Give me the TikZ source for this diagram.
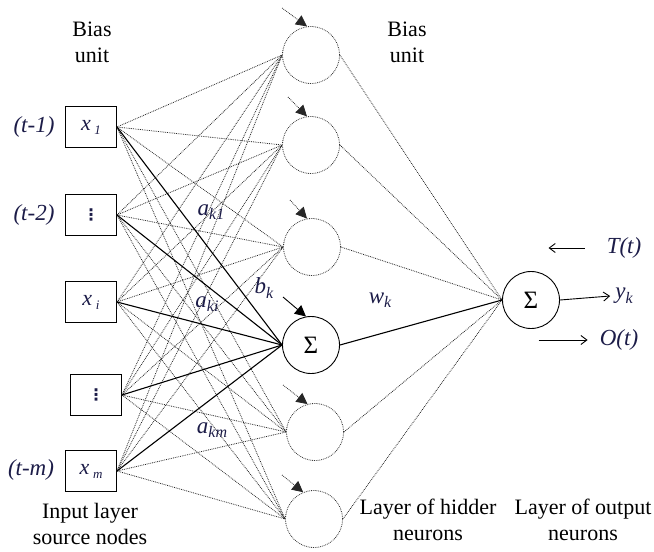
\documentclass[tikz,border=0pt]{standalone}
\usepackage{fontspec}
\setmainfont{Liberation Serif}
\newfontfamily\symfont{DejaVu Sans}
\usetikzlibrary{arrows.meta,calc}
\definecolor{ink}{RGB}{28,28,72}

% subscripted variable in the label font
\newcommand{\vsub}[2]{#1\raisebox{-0.4ex}{\fontsize{16}{16}\selectfont #2}}
\newcommand{\boxsub}[2]{#1\,\raisebox{-0.4ex}{\fontsize{13}{13}\selectfont #2}}
\newcommand{\vdotsym}{{\symfont\bfseries\fontsize{16}{16}\selectfont ⋮}}

\tikzset{
  inbox/.style={draw, line width=0.9pt, minimum width=51pt, minimum height=41pt,
                inner sep=0pt, text=ink, font=\fontsize{22}{24}\selectfont\itshape},
  hid/.style={circle, draw=black!80, densely dotted, line width=0.8pt,
              minimum size=57pt, inner sep=0pt},
  sumnode/.style={circle, draw, line width=0.9pt, minimum size=57pt, inner sep=0pt,
                  font=\fontsize{25}{27}\selectfont},
  dotlink/.style={draw=black!85, densely dotted, line width=0.8pt},
  solidlink/.style={draw, line width=1.1pt},
  biasarrow/.style={draw=black!85, densely dotted, line width=0.8pt,
                    -{Triangle[length=11pt,width=11pt]}},
  biassolid/.style={draw, line width=0.9pt, -{Triangle[length=11pt,width=11pt]}},
  lbl/.style={font=\fontsize{22}{26}\selectfont, align=center, inner sep=0pt},
  mathlbl/.style={text=ink, font=\fontsize{23}{25}\selectfont\itshape, inner sep=0pt},
  outarrow/.style={line width=0.9pt, -{Straight Barb[length=6pt,width=9pt]}}
}

\begin{document}
\begin{tikzpicture}[x=1pt,y=-1pt]
\useasboundingbox (0,0) rectangle (654,552);

% input layer
\node[inbox] (in1) at (91,127) {\boxsub{x}{1}};
\node[inbox] (in2) at (91,215) {\vdotsym};
\node[inbox] (in3) at (91,302) {\boxsub{x}{i}};
\node[inbox] (in4) at (96,395) {\vdotsym};
\node[inbox] (in5) at (91,471) {\boxsub{x}{m}};

% hidden layer
\node[hid] (h1) at (311,55) {};
\node[hid] (h2) at (311,145) {};
\node[hid] (h3) at (312,247) {};
\node[sumnode] (h4) at (311,345) {Σ};
\node[hid] (h5) at (315,432) {};
\node[hid] (h6) at (314,519) {};

% output neuron
\node[sumnode] (out) at (531,300) {Σ};

% input -> hidden connections
\foreach \i in {1,...,5}{
  \foreach \j in {1,2,3,5,6}{
    \draw[dotlink] (in\i.east) -- (h\j.west);
  }
}
\foreach \i in {1,...,5}{
  \draw[solidlink] (in\i.east) -- (h4.west);
}

% hidden -> output connections
\foreach \j in {1,2,3,5,6}{
  \draw[dotlink] (h\j.east) -- (out.west);
}
\draw[solidlink] (h4.east) -- (out.west);

% bias inputs
\coordinate (b1) at (282,8);
\coordinate (b2) at (288,97);
\coordinate (b3) at (290,200);
\coordinate (b4) at (283,297);
\coordinate (b5) at (283,385);
\coordinate (b6) at (282,475);
\draw[biasarrow] (b1) -- (h1.98);
\draw[biasarrow] (b2) -- (h2.98);
\draw[biasarrow] (b3) -- (h3.100);
\draw[biassolid] (b4) -- (h4.100);
\draw[biasarrow] (b5) -- (h5.105);
\draw[biasarrow] (b6) -- (h6.112);

% headings
\node[lbl] (bias1) at (92,42) {Bias\\unit};
\node[lbl] (bias2) at (407,42) {Bias\\unit};
\node[lbl] (inlbl) at (90,524) {Input layer\\source nodes};
\node[lbl] (hidlbl) at (428,520) {Layer of hidder\\neurons};
\node[lbl] (outlbl) at (583,520) {Layer of output\\neurons};

% time lags
\node[mathlbl] (t1) at (34,127) {(t-1)};
\node[mathlbl] (t2) at (34,215) {(t-2)};
\node[mathlbl] (tm) at (31,470) {(t-m)};

% weights
\node[mathlbl] (ak1) at (211,212) {\vsub{a}{k1}};
\node[mathlbl] (aki) at (207,304) {\vsub{a}{ki}};
\node[mathlbl] (akm) at (212,430) {\vsub{a}{km}};
\node[mathlbl] (bk) at (264,288) {\vsub{b}{k}};
\node[mathlbl] (wk) at (380,300) {\vsub{w}{k}};

% output side
\node[mathlbl] (yk) at (624,296) {\vsub{y}{k}};
\node[mathlbl] (Tt) at (624,248) {T(t)};
\node[mathlbl] (Ot) at (619,340) {O(t)};
\draw[outarrow] (out.east) -- ([xshift=-5pt]yk.west);
\draw[outarrow] ([xshift=-22pt]Tt.west) -- ([xshift=-58pt]Tt.west);
\draw[outarrow] ([xshift=-61pt]Ot.west) -- ([xshift=-12pt]Ot.west);
\end{tikzpicture}
\end{document}
